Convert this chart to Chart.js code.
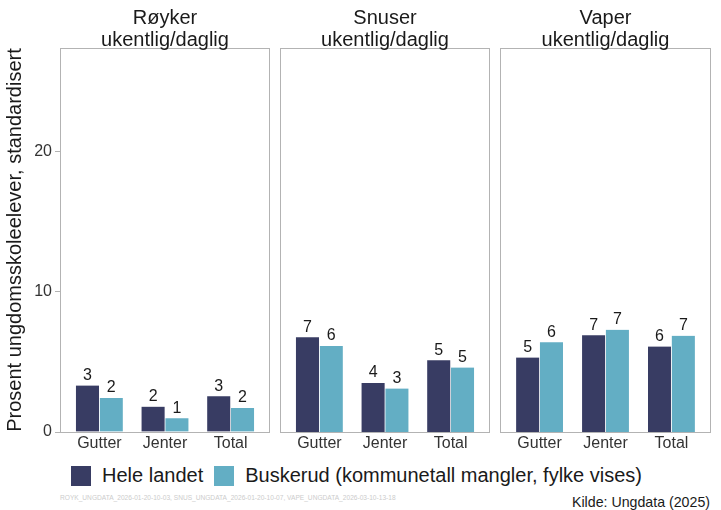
<!DOCTYPE html>
<html>
<head>
<meta charset="utf-8">
<script src="https://cdn.jsdelivr.net/npm/chart.js@4.4.1/dist/chart.umd.min.js"></script>
<style>
  html, body { margin: 0; padding: 0; background: #ffffff; }
  #wrap { position: relative; width: 721px; height: 510px; overflow: hidden; font-family: "Liberation Sans", Arial, sans-serif; color: #1a1a1a; }
  canvas { position: absolute; top: 0; }
  .strip { position: absolute; top: 6px; text-align: center; font-size: 20px; line-height: 22px; color: #1a1a1a; }
  #legend { position: absolute; left: 71px; top: 464px; display: flex; align-items: center; font-size: 20px; }
  .lg-item { display: flex; align-items: center; margin-right: 11px; }
  .lg-box { width: 20px; height: 20px; margin-right: 11px; }
  #files { position: absolute; left: 60px; top: 494px; font-size: 6.6px; color: #cccccc; white-space: nowrap; }
  #source { position: absolute; right: 11px; top: 494px; font-size: 14.2px; color: #1a1a1a; }
</style>
</head>
<body>
<div id="wrap">
  <canvas id="c0" width="275" height="460" style="left:0px"></canvas>
  <canvas id="c1" width="220" height="460" style="left:275px"></canvas>
  <canvas id="c2" width="226" height="460" style="left:495px"></canvas>
  <div id="legend"></div>
  <div id="files">ROYK_UNGDATA_2026-01-20-10-03, SNUS_UNGDATA_2026-01-20-10-07, VAPE_UNGDATA_2026-03-10-13-18</div>
  <div id="source">Kilde: Ungdata (2025)</div>
</div>
<script>
// ---- data ----
const panelTitles = [["Røyker", "ukentlig/daglig"], ["Snuser", "ukentlig/daglig"], ["Vaper", "ukentlig/daglig"]];
const categories = ["Gutter", "Jenter", "Total"];
const seriesNames = ["Hele landet", "Buskerud (kommunetall mangler, fylke vises)"];
const roykHele = [3.31, 1.81, 2.55];
const roykBusk = [2.43, 0.98, 1.71];
const snusHele = [6.76, 3.5, 5.12];
const snusBusk = [6.14, 3.1, 4.6];
const vapeHele = [5.31, 6.9, 6.1];
const vapeBusk = [6.4, 7.29, 6.86];
const yTicks = [0, 10, 20];
const yAxisTitle = "Prosent ungdomsskoleelever, standardisert";

// ---- styles ----
const colors = ["#383c63", "#63aec4"];
const FONT = "'Liberation Sans', Arial, sans-serif";
const panelSeries = [[roykHele, roykBusk], [snusHele, snusBusk], [vapeHele, vapeBusk]];

const borderPlugin = {
  id: 'panelBorder',
  afterDraw(chart) {
    const a = chart.chartArea, ctx = chart.ctx;
    ctx.save();
    ctx.strokeStyle = '#b3b3b3';
    ctx.lineWidth = 1;
    ctx.strokeRect(Math.round(a.left) + 0.5, Math.round(a.top) + 0.5, Math.round(a.right - a.left) - 1, Math.round(a.bottom - a.top));
    ctx.restore();
  }
};
const labelPlugin = {
  id: 'barLabels',
  afterDatasetsDraw(chart) {
    const ctx = chart.ctx;
    ctx.save();
    ctx.font = "16px " + FONT;
    ctx.fillStyle = '#1a1a1a';
    ctx.textAlign = 'center';
    ctx.textBaseline = 'bottom';
    chart.data.datasets.forEach((ds, di) => {
      const meta = chart.getDatasetMeta(di);
      meta.data.forEach((el, i) => {
        const v = ds.data[i].y;
        ctx.fillText(String(Math.round(v)), el.x, el.y - 2);
      });
    });
    ctx.restore();
  }
};

panelSeries.forEach((series, p) => {
  const isFirst = p === 0;
  const ctx = document.getElementById('c' + p);
  const padLeft = isFirst ? 0 : 5;
  const padRight = p === 2 ? 10 : 5;
  new Chart(ctx, {
    type: 'bar',
    data: {
      datasets: series.map((vals, s) => ({
        label: seriesNames[s],
        data: categories.map((c, i) => ({x: i, y: vals[i]})),
        backgroundColor: colors[s],
        borderColor: '#ffffff',
        borderWidth: {left: 0.7, right: 0.7, top: 0, bottom: 0},
        borderSkipped: false,
        barThickness: 23.8
      }))
    },
    options: {
      responsive: false,
      animation: false,
      devicePixelRatio: 1,
      layout: {padding: {top: 48, left: padLeft, right: padRight, bottom: 0}},
      plugins: {legend: {display: false}, tooltip: {enabled: false}, title: {display: false}},
      scales: {
        x: {
          type: 'linear',
          min: -0.6,
          max: 2.6,
          offset: false,
          afterBuildTicks: (axis) => { axis.ticks = categories.map((c, i) => ({value: i})); },
          afterFit: (axis) => { axis.height = 28; },
          ticks: {
            callback: (v) => categories[v],
            font: {size: 16, family: FONT},
            color: '#333333',
            padding: 2,
            maxRotation: 0,
            autoSkip: false
          },
          grid: {display: false, drawTicks: false},
          border: {display: false}
        },
        y: {
          display: isFirst,
          min: 0,
          max: 27.4,
          afterBuildTicks: (axis) => { axis.ticks = yTicks.map(v => ({value: v})); },
          afterFit: (axis) => { axis.width = isFirst ? 60 : 0; },
          ticks: {font: {size: 16, family: FONT}, color: '#333333', padding: 3},
          grid: {drawOnChartArea: false, drawTicks: true, tickLength: 5, color: '#b3b3b3'},
          border: {display: false},
          title: {
            display: isFirst,
            text: yAxisTitle,
            font: {size: 20, family: FONT},
            color: '#1a1a1a',
            padding: {top: 3, bottom: 0}
          }
        }
      }
    },
    plugins: [borderPlugin, labelPlugin]
  });
});

// strip titles
const centers = [165, 385, 605.5];
panelTitles.forEach((lines, p) => {
  const d = document.createElement('div');
  d.className = 'strip';
  d.style.left = (centers[p] - 100) + 'px';
  d.style.width = '200px';
  d.innerHTML = lines.map(l => '<div>' + l + '</div>').join('');
  document.getElementById('wrap').appendChild(d);
});

// legend
const lg = document.getElementById('legend');
seriesNames.forEach((n, s) => {
  const it = document.createElement('div');
  it.className = 'lg-item';
  const b = document.createElement('div');
  b.className = 'lg-box';
  b.style.background = colors[s];
  const t = document.createElement('span');
  t.textContent = n;
  it.appendChild(b); it.appendChild(t);
  lg.appendChild(it);
});
</script>
</body>
</html>
